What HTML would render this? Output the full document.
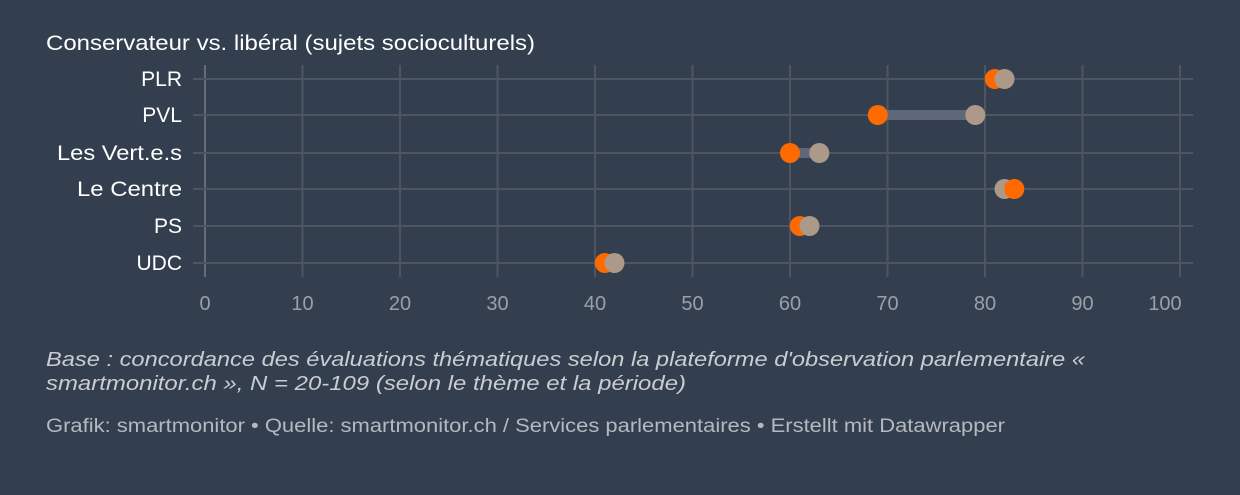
<!DOCTYPE html>
<html><head><meta charset="utf-8"><style>
body{margin:0;background:#333e4f;width:1240px;height:495px;overflow:hidden;font-family:"Liberation Sans",Arial,sans-serif}
</style></head><body>
<svg width="1240" height="495" xmlns="http://www.w3.org/2000/svg" style="position:absolute;left:0;top:0">
<rect width="1240" height="495" fill="#333e4f"/>
<text x="46" y="50" fill="#fff" font-size="21" textLength="489" lengthAdjust="spacingAndGlyphs">Conservateur vs. libéral (sujets socioculturels)</text>
<g stroke="#4d5561" stroke-width="2">
<line x1="205" y1="65" x2="205" y2="277" stroke="#666d77"/>
<line x1="302.5" y1="65" x2="302.5" y2="277"/><line x1="400" y1="65" x2="400" y2="277"/>
<line x1="497.5" y1="65" x2="497.5" y2="277"/><line x1="595" y1="65" x2="595" y2="277"/>
<line x1="692.5" y1="65" x2="692.5" y2="277"/><line x1="790" y1="65" x2="790" y2="277"/>
<line x1="887.5" y1="65" x2="887.5" y2="277"/><line x1="985" y1="65" x2="985" y2="277"/>
<line x1="1082.5" y1="65" x2="1082.5" y2="277"/><line x1="1180" y1="65" x2="1180" y2="277"/>
<line x1="193" y1="79" x2="1193" y2="79"/><line x1="193" y1="115" x2="1193" y2="115"/>
<line x1="193" y1="153" x2="1193" y2="153"/><line x1="193" y1="189" x2="1193" y2="189"/>
<line x1="193" y1="226" x2="1193" y2="226"/><line x1="193" y1="263" x2="1193" y2="263"/>
</g>
<g fill="#fff" font-size="21" text-anchor="end">
<text x="182" y="86">PLR</text><text x="182" y="122">PVL</text><text x="182" y="160" textLength="125" lengthAdjust="spacingAndGlyphs">Les Vert.e.s</text>
<text x="182" y="196" textLength="105" lengthAdjust="spacingAndGlyphs">Le Centre</text><text x="182" y="233">PS</text><text x="182" y="270">UDC</text>
</g>
<g fill="#9aa0a8" font-size="20" text-anchor="middle">
<text x="205" y="310">0</text><text x="302.5" y="310">10</text><text x="400" y="310">20</text><text x="497.5" y="310">30</text>
<text x="595" y="310">40</text><text x="692.5" y="310">50</text><text x="790" y="310">60</text><text x="887.5" y="310">70</text>
<text x="985" y="310">80</text><text x="1082.5" y="310">90</text><text x="1165" y="310">100</text>
</g>
<g fill="#5f6878">
<rect x="877" y="110" width="98" height="10"/><rect x="790" y="148" width="29" height="10"/>
</g>
<g>
<circle cx="994.8" cy="79" r="10" fill="#ff6a00"/><circle cx="1004.5" cy="79" r="10" fill="#ad9987"/>
<circle cx="877.8" cy="115" r="10" fill="#ff6a00"/><circle cx="975.3" cy="115" r="10" fill="#ad9987"/>
<circle cx="790" cy="153" r="10" fill="#ff6a00"/><circle cx="819.3" cy="153" r="10" fill="#ad9987"/>
<circle cx="1004.5" cy="189" r="10" fill="#ad9987"/><circle cx="1014.3" cy="189" r="10" fill="#ff6a00"/>
<circle cx="799.8" cy="226" r="10" fill="#ff6a00"/><circle cx="809.5" cy="226" r="10" fill="#ad9987"/>
<circle cx="604.8" cy="263" r="10" fill="#ff6a00"/><circle cx="614.5" cy="263" r="10" fill="#ad9987"/>
</g>
<g fill="#c9ccd1" font-size="20" font-style="italic">
<text x="46" y="366" textLength="1039" lengthAdjust="spacingAndGlyphs">Base : concordance des évaluations thématiques selon la plateforme d'observation parlementaire «</text>
<text x="46" y="390" textLength="640" lengthAdjust="spacingAndGlyphs">smartmonitor.ch », N = 20-109 (selon le thème et la période)</text>
</g>
<text x="46" y="432" fill="#b5b9bf" font-size="19" textLength="959" lengthAdjust="spacingAndGlyphs">Grafik: smartmonitor • Quelle: smartmonitor.ch / Services parlementaires • Erstellt mit Datawrapper</text>
</svg>
</body></html>
